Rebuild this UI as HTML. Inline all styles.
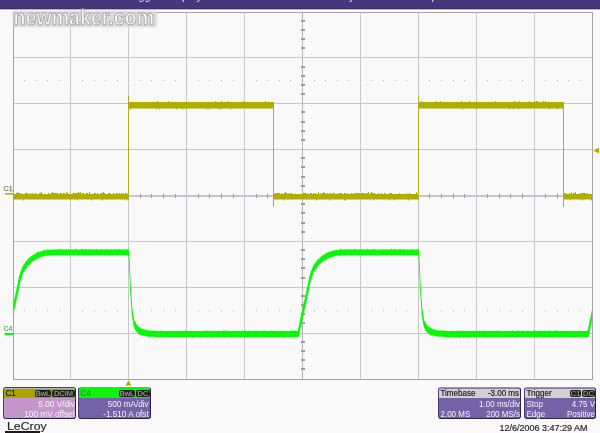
<!DOCTYPE html>
<html><head><meta charset="utf-8"><style>
*{margin:0;padding:0;box-sizing:border-box}
html,body{width:600px;height:433px;overflow:hidden;background:#f9f9f9;font-family:"Liberation Sans",Arial,sans-serif}
#top{position:absolute;left:0;top:0;width:600px;height:9px;background:#45387a;overflow:hidden}
.mn{position:absolute;top:-10.2px;font-size:11px;line-height:12px;color:#e8e4f4;white-space:nowrap}
#sep{position:absolute;left:0;top:8px;width:600px;height:1px;background:#3c2e6c}
#sep2{position:absolute;left:0;top:9px;width:600px;height:1px;background:#b8b8bc}
#sep3{position:absolute;left:0;top:10px;width:600px;height:1px;background:#ffffff}
svg{position:absolute;left:0;top:0}
.wmbg{position:absolute;left:13px;top:11px;width:144px;height:15.5px;background:#d9d9d9;filter:blur(1.2px)}
.wm{position:absolute;left:13.6px;top:5.5px;font-size:19.6px;font-weight:bold;line-height:24px;color:#f8f8f8;white-space:nowrap;
 -webkit-text-stroke:0.8px #a4a4a4;transform:scaleY(1.13);transform-origin:0 19.5px}
.box{position:absolute;top:387px;height:32px;border:1px solid #2c2248;border-left-color:#4c3c78;border-top-color:#a486c6;border-radius:3px;font-size:8px;line-height:9.5px;white-space:nowrap}
.hd{position:absolute;left:0;top:0;right:0;height:10px;border-top:1px solid transparent;border-radius:2px 2px 0 0}
.hd .l{position:absolute;left:1.5px;top:0;color:#141414;-webkit-text-stroke:0.15px #141414;transform:scaleY(1.12);transform-origin:0 7.5px}
.bd{position:absolute;left:0;top:10px;right:0;bottom:0}
.r{position:absolute;right:0px;color:#f4f4f4;transform:scaleY(1.12);transform-origin:0 7.5px}
.lft{position:absolute;left:1.5px;color:#f4f4f4;transform:scaleY(1.12);transform-origin:0 7.5px}
.bdg{position:absolute;top:0.5px;height:7.5px;background:#1c2418;border-radius:2px;color:#b8b8b8;font-size:7.5px;line-height:7.5px;text-align:center}
#logo{position:absolute;left:6.6px;top:420.3px;font-size:10.5px;color:#262626;-webkit-text-stroke:0.15px #262626;transform:scaleX(1.17);transform-origin:0 0}
#logobar{position:absolute;left:5px;top:431px;width:35px;height:2px;background:#1a1a1a}
#date{position:absolute;left:499.5px;top:422.5px;font-size:9px;color:#282828;-webkit-text-stroke:0.2px #282828;white-space:nowrap}
</style></head><body>
<div id="top"><span class="mn" style="left:126px">Trigger</span><span class="mn" style="left:166px">Display</span><span class="mn" style="left:327px">Analysis</span><span class="mn" style="left:415px">Help</span></div><div id="sep"></div><div id="sep2"></div><div id="sep3"></div>
<svg width="600" height="433" viewBox="0 0 600 433">
<rect x="70" y="12" width="1" height="367" fill="#c8c8cc"/>
<rect x="128" y="12" width="1" height="367" fill="#c8c8cc"/>
<rect x="186" y="12" width="1" height="367" fill="#c8c8cc"/>
<rect x="244" y="12" width="1" height="367" fill="#c8c8cc"/>
<rect x="302" y="12" width="1" height="367" fill="#c8c8cc"/>
<rect x="360" y="12" width="1" height="367" fill="#c8c8cc"/>
<rect x="418" y="12" width="1" height="367" fill="#c8c8cc"/>
<rect x="476" y="12" width="1" height="367" fill="#c8c8cc"/>
<rect x="534" y="12" width="1" height="367" fill="#c8c8cc"/>
<rect x="13" y="57" width="579" height="1" fill="#c8c8cc"/>
<rect x="13" y="103" width="579" height="1" fill="#c8c8cc"/>
<rect x="13" y="149" width="579" height="1" fill="#c8c8cc"/>
<rect x="13" y="195" width="579" height="1" fill="#c8c8cc"/>
<rect x="13" y="241" width="579" height="1" fill="#c8c8cc"/>
<rect x="13" y="287" width="579" height="1" fill="#c8c8cc"/>
<rect x="13" y="333" width="579" height="1" fill="#c8c8cc"/>
<rect x="302" y="12" width="1" height="367" fill="#b4b4ba"/>
<rect x="13" y="195" width="579" height="2" fill="#c8c8cc"/>
<path d="M301 20h4v2h-4zM301 29h4v2h-4zM301 38h4v2h-4zM301 47h4v2h-4zM301 66h4v2h-4zM301 75h4v2h-4zM301 84h4v2h-4zM301 93h4v2h-4zM301 111h4v2h-4zM301 121h4v2h-4zM301 130h4v2h-4zM301 139h4v2h-4zM301 157h4v2h-4zM301 166h4v2h-4zM301 176h4v2h-4zM301 185h4v2h-4zM301 203h4v2h-4zM301 212h4v2h-4zM301 222h4v2h-4zM301 231h4v2h-4zM301 249h4v2h-4zM301 258h4v2h-4zM301 267h4v2h-4zM301 277h4v2h-4zM301 295h4v2h-4zM301 304h4v2h-4zM301 313h4v2h-4zM301 322h4v2h-4zM301 341h4v2h-4zM301 350h4v2h-4zM301 359h4v2h-4zM301 368h4v2h-4zM24 194h1v4h-1zM36 194h1v4h-1zM47 194h1v4h-1zM59 194h1v4h-1zM82 194h1v4h-1zM94 194h1v4h-1zM105 194h1v4h-1zM117 194h1v4h-1zM140 194h1v4h-1zM151 194h1v4h-1zM163 194h1v4h-1zM175 194h1v4h-1zM198 194h1v4h-1zM209 194h1v4h-1zM221 194h1v4h-1zM233 194h1v4h-1zM256 194h1v4h-1zM267 194h1v4h-1zM279 194h1v4h-1zM290 194h1v4h-1zM314 194h1v4h-1zM325 194h1v4h-1zM337 194h1v4h-1zM348 194h1v4h-1zM371 194h1v4h-1zM383 194h1v4h-1zM395 194h1v4h-1zM406 194h1v4h-1zM429 194h1v4h-1zM441 194h1v4h-1zM453 194h1v4h-1zM464 194h1v4h-1zM487 194h1v4h-1zM499 194h1v4h-1zM510 194h1v4h-1zM522 194h1v4h-1zM545 194h1v4h-1zM557 194h1v4h-1zM568 194h1v4h-1zM580 194h1v4h-1z" fill="#9c9ca4"/>
<path d="M24 80h1v1h-1zM36 80h1v1h-1zM47 80h1v1h-1zM59 80h1v1h-1zM70 80h1v1h-1zM82 80h1v1h-1zM94 80h1v1h-1zM105 80h1v1h-1zM117 80h1v1h-1zM128 80h1v1h-1zM140 80h1v1h-1zM151 80h1v1h-1zM163 80h1v1h-1zM175 80h1v1h-1zM186 80h1v1h-1zM198 80h1v1h-1zM209 80h1v1h-1zM221 80h1v1h-1zM233 80h1v1h-1zM244 80h1v1h-1zM256 80h1v1h-1zM267 80h1v1h-1zM279 80h1v1h-1zM290 80h1v1h-1zM302 80h1v1h-1zM314 80h1v1h-1zM325 80h1v1h-1zM337 80h1v1h-1zM348 80h1v1h-1zM360 80h1v1h-1zM371 80h1v1h-1zM383 80h1v1h-1zM395 80h1v1h-1zM406 80h1v1h-1zM418 80h1v1h-1zM429 80h1v1h-1zM441 80h1v1h-1zM453 80h1v1h-1zM464 80h1v1h-1zM476 80h1v1h-1zM487 80h1v1h-1zM499 80h1v1h-1zM510 80h1v1h-1zM522 80h1v1h-1zM534 80h1v1h-1zM545 80h1v1h-1zM557 80h1v1h-1zM568 80h1v1h-1zM580 80h1v1h-1zM24 310h1v1h-1zM36 310h1v1h-1zM47 310h1v1h-1zM59 310h1v1h-1zM70 310h1v1h-1zM82 310h1v1h-1zM94 310h1v1h-1zM105 310h1v1h-1zM117 310h1v1h-1zM128 310h1v1h-1zM140 310h1v1h-1zM151 310h1v1h-1zM163 310h1v1h-1zM175 310h1v1h-1zM186 310h1v1h-1zM198 310h1v1h-1zM209 310h1v1h-1zM221 310h1v1h-1zM233 310h1v1h-1zM244 310h1v1h-1zM256 310h1v1h-1zM267 310h1v1h-1zM279 310h1v1h-1zM290 310h1v1h-1zM302 310h1v1h-1zM314 310h1v1h-1zM325 310h1v1h-1zM337 310h1v1h-1zM348 310h1v1h-1zM360 310h1v1h-1zM371 310h1v1h-1zM383 310h1v1h-1zM395 310h1v1h-1zM406 310h1v1h-1zM418 310h1v1h-1zM429 310h1v1h-1zM441 310h1v1h-1zM453 310h1v1h-1zM464 310h1v1h-1zM476 310h1v1h-1zM487 310h1v1h-1zM499 310h1v1h-1zM510 310h1v1h-1zM522 310h1v1h-1zM534 310h1v1h-1zM545 310h1v1h-1zM557 310h1v1h-1zM568 310h1v1h-1zM580 310h1v1h-1z" fill="#b0b0b4"/>
<rect x="13.5" y="12.5" width="579" height="367" fill="none" stroke="#a4a4a8" stroke-width="1"/>
<path d="M13 193 14 193 14 194 15 194 15 194 16 194 16 193 17 193 17 192 18 192 18 193 19 193 19 193 20 193 20 193 21 193 21 194 22 194 22 194 23 194 23 194 24 194 24 194 25 194 25 193 26 193 26 193 27 193 27 193 28 193 28 194 29 194 29 194 30 194 30 193 31 193 31 194 32 194 32 193 33 193 33 194 34 194 34 194 35 194 35 193 36 193 36 194 37 194 37 194 38 194 38 194 39 194 39 193 40 193 40 193 41 193 41 192 42 192 42 194 43 194 43 194 44 194 44 194 45 194 45 194 46 194 46 194 47 194 47 194 48 194 48 193 49 193 49 194 50 194 50 194 51 194 51 193 52 193 52 192 53 192 53 193 54 193 54 193 55 193 55 193 56 193 56 193 57 193 57 193 58 193 58 194 59 194 59 194 60 194 60 193 61 193 61 193 62 193 62 194 63 194 63 193 64 193 64 193 65 193 65 194 66 194 66 192 67 192 67 193 68 193 68 194 69 194 69 194 70 194 70 194 71 194 71 194 72 194 72 194 73 194 73 193 74 193 74 193 75 193 75 193 76 193 76 193 77 193 77 193 78 193 78 192 79 192 79 193 80 193 80 192 81 192 81 194 82 194 82 193 83 193 83 193 84 193 84 194 85 194 85 194 86 194 86 193 87 193 87 193 88 193 88 194 89 194 89 192 90 192 90 194 91 194 91 194 92 194 92 194 93 194 93 194 94 194 94 193 95 193 95 193 96 193 96 194 97 194 97 193 98 193 98 194 99 194 99 194 100 194 100 194 101 194 101 193 102 193 102 193 103 193 103 192 104 192 104 193 105 193 105 194 106 194 106 194 107 194 107 194 108 194 108 193 109 193 109 193 110 193 110 194 111 194 111 194 112 194 112 194 113 194 113 193 114 193 114 194 115 194 115 194 116 194 116 193 117 193 117 193 118 193 118 194 119 194 119 193 120 193 120 194 121 194 121 193 122 193 122 194 123 194 123 193 124 193 124 194 125 194 125 193 126 193 126 193 127 193 127 194 128 194 128 194 129 194 L129 199.6 128 199.6 128 199.6 127 199.6 127 200.6 126 200.6 126 199.6 125 199.6 125 199.6 124 199.6 124 199.6 123 199.6 123 199.6 122 199.6 122 199.6 121 199.6 121 199.6 120 199.6 120 199.6 119 199.6 119 199.6 118 199.6 118 199.6 117 199.6 117 199.6 116 199.6 116 199.6 115 199.6 115 199.6 114 199.6 114 199.6 113 199.6 113 199.6 112 199.6 112 199.6 111 199.6 111 199.6 110 199.6 110 199.6 109 199.6 109 199.6 108 199.6 108 199.6 107 199.6 107 199.6 106 199.6 106 199.6 105 199.6 105 199.6 104 199.6 104 199.6 103 199.6 103 200.6 102 200.6 102 199.6 101 199.6 101 199.6 100 199.6 100 199.6 99 199.6 99 199.6 98 199.6 98 199.6 97 199.6 97 199.6 96 199.6 96 199.6 95 199.6 95 199.6 94 199.6 94 199.6 93 199.6 93 199.6 92 199.6 92 200.6 91 200.6 91 199.6 90 199.6 90 199.6 89 199.6 89 199.6 88 199.6 88 199.6 87 199.6 87 199.6 86 199.6 86 199.6 85 199.6 85 199.6 84 199.6 84 199.6 83 199.6 83 199.6 82 199.6 82 199.6 81 199.6 81 199.6 80 199.6 80 199.6 79 199.6 79 199.6 78 199.6 78 200.6 77 200.6 77 199.6 76 199.6 76 199.6 75 199.6 75 199.6 74 199.6 74 199.6 73 199.6 73 199.6 72 199.6 72 199.6 71 199.6 71 200.6 70 200.6 70 199.6 69 199.6 69 199.6 68 199.6 68 199.6 67 199.6 67 199.6 66 199.6 66 199.6 65 199.6 65 199.6 64 199.6 64 199.6 63 199.6 63 199.6 62 199.6 62 199.6 61 199.6 61 199.6 60 199.6 60 199.6 59 199.6 59 199.6 58 199.6 58 199.6 57 199.6 57 199.6 56 199.6 56 199.6 55 199.6 55 199.6 54 199.6 54 199.6 53 199.6 53 199.6 52 199.6 52 199.6 51 199.6 51 199.6 50 199.6 50 199.6 49 199.6 49 199.6 48 199.6 48 199.6 47 199.6 47 199.6 46 199.6 46 199.6 45 199.6 45 199.6 44 199.6 44 199.6 43 199.6 43 199.6 42 199.6 42 199.6 41 199.6 41 199.6 40 199.6 40 199.6 39 199.6 39 199.6 38 199.6 38 199.6 37 199.6 37 199.6 36 199.6 36 199.6 35 199.6 35 199.6 34 199.6 34 199.6 33 199.6 33 199.6 32 199.6 32 199.6 31 199.6 31 199.6 30 199.6 30 199.6 29 199.6 29 199.6 28 199.6 28 199.6 27 199.6 27 199.6 26 199.6 26 199.6 25 199.6 25 199.6 24 199.6 24 200.6 23 200.6 23 199.6 22 199.6 22 199.6 21 199.6 21 199.6 20 199.6 20 199.6 19 199.6 19 199.6 18 199.6 18 199.6 17 199.6 17 199.6 16 199.6 16 199.6 15 199.6 15 199.6 14 199.6 14 199.6 13 199.6Z M273 193 274 193 274 194 275 194 275 193 276 193 276 193 277 193 277 193 278 193 278 193 279 193 279 193 280 193 280 194 281 194 281 193 282 193 282 194 283 194 283 194 284 194 284 193 285 193 285 192 286 192 286 193 287 193 287 194 288 194 288 193 289 193 289 194 290 194 290 193 291 193 291 193 292 193 292 194 293 194 293 194 294 194 294 194 295 194 295 194 296 194 296 194 297 194 297 194 298 194 298 194 299 194 299 194 300 194 300 194 301 194 301 194 302 194 302 194 303 194 303 193 304 193 304 193 305 193 305 193 306 193 306 194 307 194 307 193 308 193 308 194 309 194 309 194 310 194 310 193 311 193 311 193 312 193 312 194 313 194 313 193 314 193 314 194 315 194 315 193 316 193 316 194 317 194 317 194 318 194 318 192 319 192 319 194 320 194 320 193 321 193 321 194 322 194 322 193 323 193 323 192 324 192 324 193 325 193 325 193 326 193 326 194 327 194 327 193 328 193 328 194 329 194 329 193 330 193 330 194 331 194 331 193 332 193 332 194 333 194 333 193 334 193 334 193 335 193 335 194 336 194 336 194 337 194 337 193 338 193 338 194 339 194 339 193 340 193 340 193 341 193 341 193 342 193 342 194 343 194 343 194 344 194 344 193 345 193 345 193 346 193 346 194 347 194 347 193 348 193 348 194 349 194 349 194 350 194 350 194 351 194 351 193 352 193 352 194 353 194 353 193 354 193 354 194 355 194 355 193 356 193 356 193 357 193 357 193 358 193 358 193 359 193 359 193 360 193 360 194 361 194 361 193 362 193 362 193 363 193 363 193 364 193 364 193 365 193 365 194 366 194 366 193 367 193 367 193 368 193 368 192 369 192 369 194 370 194 370 193 371 193 371 192 372 192 372 193 373 193 373 193 374 193 374 193 375 193 375 194 376 194 376 194 377 194 377 194 378 194 378 193 379 193 379 194 380 194 380 194 381 194 381 193 382 193 382 194 383 194 383 194 384 194 384 193 385 193 385 194 386 194 386 194 387 194 387 194 388 194 388 194 389 194 389 193 390 193 390 193 391 193 391 193 392 193 392 194 393 194 393 194 394 194 394 194 395 194 395 194 396 194 396 194 397 194 397 194 398 194 398 194 399 194 399 193 400 193 400 194 401 194 401 194 402 194 402 194 403 194 403 194 404 194 404 194 405 194 405 194 406 194 406 193 407 193 407 194 408 194 408 194 409 194 409 193 410 193 410 194 411 194 411 194 412 194 412 194 413 194 413 194 414 194 414 194 415 194 415 194 416 194 416 192 417 192 417 194 418 194 418 193 419 193 L419 199.6 418 199.6 418 199.6 417 199.6 417 199.6 416 199.6 416 199.6 415 199.6 415 199.6 414 199.6 414 199.6 413 199.6 413 199.6 412 199.6 412 199.6 411 199.6 411 199.6 410 199.6 410 199.6 409 199.6 409 200.6 408 200.6 408 199.6 407 199.6 407 199.6 406 199.6 406 199.6 405 199.6 405 199.6 404 199.6 404 199.6 403 199.6 403 199.6 402 199.6 402 199.6 401 199.6 401 199.6 400 199.6 400 199.6 399 199.6 399 199.6 398 199.6 398 199.6 397 199.6 397 199.6 396 199.6 396 199.6 395 199.6 395 200.6 394 200.6 394 199.6 393 199.6 393 199.6 392 199.6 392 199.6 391 199.6 391 199.6 390 199.6 390 200.6 389 200.6 389 199.6 388 199.6 388 199.6 387 199.6 387 199.6 386 199.6 386 199.6 385 199.6 385 199.6 384 199.6 384 199.6 383 199.6 383 199.6 382 199.6 382 199.6 381 199.6 381 199.6 380 199.6 380 199.6 379 199.6 379 199.6 378 199.6 378 199.6 377 199.6 377 199.6 376 199.6 376 199.6 375 199.6 375 199.6 374 199.6 374 200.6 373 200.6 373 199.6 372 199.6 372 199.6 371 199.6 371 199.6 370 199.6 370 199.6 369 199.6 369 199.6 368 199.6 368 199.6 367 199.6 367 199.6 366 199.6 366 199.6 365 199.6 365 199.6 364 199.6 364 199.6 363 199.6 363 199.6 362 199.6 362 199.6 361 199.6 361 199.6 360 199.6 360 199.6 359 199.6 359 199.6 358 199.6 358 199.6 357 199.6 357 199.6 356 199.6 356 199.6 355 199.6 355 199.6 354 199.6 354 199.6 353 199.6 353 199.6 352 199.6 352 199.6 351 199.6 351 199.6 350 199.6 350 199.6 349 199.6 349 199.6 348 199.6 348 199.6 347 199.6 347 199.6 346 199.6 346 200.6 345 200.6 345 200.6 344 200.6 344 199.6 343 199.6 343 199.6 342 199.6 342 199.6 341 199.6 341 199.6 340 199.6 340 199.6 339 199.6 339 199.6 338 199.6 338 199.6 337 199.6 337 199.6 336 199.6 336 199.6 335 199.6 335 199.6 334 199.6 334 199.6 333 199.6 333 199.6 332 199.6 332 199.6 331 199.6 331 199.6 330 199.6 330 200.6 329 200.6 329 199.6 328 199.6 328 199.6 327 199.6 327 199.6 326 199.6 326 199.6 325 199.6 325 199.6 324 199.6 324 199.6 323 199.6 323 199.6 322 199.6 322 199.6 321 199.6 321 199.6 320 199.6 320 199.6 319 199.6 319 199.6 318 199.6 318 199.6 317 199.6 317 200.6 316 200.6 316 199.6 315 199.6 315 199.6 314 199.6 314 199.6 313 199.6 313 199.6 312 199.6 312 199.6 311 199.6 311 199.6 310 199.6 310 199.6 309 199.6 309 199.6 308 199.6 308 199.6 307 199.6 307 199.6 306 199.6 306 199.6 305 199.6 305 199.6 304 199.6 304 199.6 303 199.6 303 199.6 302 199.6 302 199.6 301 199.6 301 199.6 300 199.6 300 199.6 299 199.6 299 199.6 298 199.6 298 199.6 297 199.6 297 199.6 296 199.6 296 199.6 295 199.6 295 199.6 294 199.6 294 199.6 293 199.6 293 199.6 292 199.6 292 199.6 291 199.6 291 199.6 290 199.6 290 199.6 289 199.6 289 199.6 288 199.6 288 199.6 287 199.6 287 199.6 286 199.6 286 199.6 285 199.6 285 199.6 284 199.6 284 200.6 283 200.6 283 199.6 282 199.6 282 199.6 281 199.6 281 199.6 280 199.6 280 199.6 279 199.6 279 199.6 278 199.6 278 199.6 277 199.6 277 199.6 276 199.6 276 199.6 275 199.6 275 199.6 274 199.6 274 199.6 273 199.6Z M563 193 564 193 564 193 565 193 565 193 566 193 566 194 567 194 567 194 568 194 568 194 569 194 569 193 570 193 570 194 571 194 571 192 572 192 572 194 573 194 573 193 574 193 574 193 575 193 575 192 576 192 576 194 577 194 577 194 578 194 578 194 579 194 579 193 580 193 580 194 581 194 581 193 582 193 582 193 583 193 583 193 584 193 584 193 585 193 585 193 586 193 586 194 587 194 587 193 588 193 588 194 589 194 589 194 590 194 590 194 591 194 591 194 592 194 L592 200.6 591 200.6 591 199.6 590 199.6 590 199.6 589 199.6 589 199.6 588 199.6 588 199.6 587 199.6 587 199.6 586 199.6 586 199.6 585 199.6 585 199.6 584 199.6 584 199.6 583 199.6 583 200.6 582 200.6 582 199.6 581 199.6 581 199.6 580 199.6 580 199.6 579 199.6 579 199.6 578 199.6 578 199.6 577 199.6 577 199.6 576 199.6 576 199.6 575 199.6 575 199.6 574 199.6 574 199.6 573 199.6 573 199.6 572 199.6 572 199.6 571 199.6 571 200.6 570 200.6 570 199.6 569 199.6 569 199.6 568 199.6 568 199.6 567 199.6 567 199.6 566 199.6 566 199.6 565 199.6 565 199.6 564 199.6 564 199.6 563 199.6Z M128 102 129 102 129 102 130 102 130 102 131 102 131 102 132 102 132 102 133 102 133 102 134 102 134 102 135 102 135 102 136 102 136 102 137 102 137 102 138 102 138 102 139 102 139 102 140 102 140 102 141 102 141 102 142 102 142 102 143 102 143 102 144 102 144 102 145 102 145 102 146 102 146 102 147 102 147 102 148 102 148 102 149 102 149 102 150 102 150 102 151 102 151 102 152 102 152 102 153 102 153 102 154 102 154 102 155 102 155 102 156 102 156 102 157 102 157 101 158 101 158 102 159 102 159 102 160 102 160 102 161 102 161 102 162 102 162 102 163 102 163 102 164 102 164 102 165 102 165 102 166 102 166 102 167 102 167 102 168 102 168 101 169 101 169 102 170 102 170 102 171 102 171 102 172 102 172 102 173 102 173 102 174 102 174 102 175 102 175 102 176 102 176 102 177 102 177 102 178 102 178 102 179 102 179 102 180 102 180 102 181 102 181 102 182 102 182 102 183 102 183 102 184 102 184 102 185 102 185 102 186 102 186 102 187 102 187 102 188 102 188 102 189 102 189 102 190 102 190 102 191 102 191 102 192 102 192 102 193 102 193 102 194 102 194 102 195 102 195 102 196 102 196 102 197 102 197 102 198 102 198 102 199 102 199 102 200 102 200 102 201 102 201 102 202 102 202 102 203 102 203 102 204 102 204 102 205 102 205 102 206 102 206 102 207 102 207 102 208 102 208 102 209 102 209 102 210 102 210 102 211 102 211 102 212 102 212 102 213 102 213 102 214 102 214 102 215 102 215 101 216 101 216 102 217 102 217 102 218 102 218 102 219 102 219 102 220 102 220 102 221 102 221 101 222 101 222 102 223 102 223 102 224 102 224 102 225 102 225 102 226 102 226 102 227 102 227 102 228 102 228 101 229 101 229 102 230 102 230 102 231 102 231 102 232 102 232 102 233 102 233 102 234 102 234 102 235 102 235 102 236 102 236 102 237 102 237 102 238 102 238 102 239 102 239 102 240 102 240 102 241 102 241 102 242 102 242 102 243 102 243 101 244 101 244 102 245 102 245 102 246 102 246 102 247 102 247 102 248 102 248 102 249 102 249 102 250 102 250 102 251 102 251 102 252 102 252 102 253 102 253 102 254 102 254 102 255 102 255 102 256 102 256 102 257 102 257 102 258 102 258 102 259 102 259 102 260 102 260 102 261 102 261 102 262 102 262 102 263 102 263 102 264 102 264 102 265 102 265 101 266 101 266 102 267 102 267 102 268 102 268 102 269 102 269 102 270 102 270 102 271 102 271 102 272 102 272 102 273 102 273 102 274 102 L274 108.5 273 108.5 273 108.5 272 108.5 272 108.5 271 108.5 271 108.5 270 108.5 270 108.5 269 108.5 269 108.5 268 108.5 268 108.5 267 108.5 267 108.5 266 108.5 266 108.5 265 108.5 265 108.5 264 108.5 264 108.5 263 108.5 263 108.5 262 108.5 262 108.5 261 108.5 261 108.5 260 108.5 260 108.5 259 108.5 259 108.5 258 108.5 258 108.5 257 108.5 257 108.5 256 108.5 256 108.5 255 108.5 255 108.5 254 108.5 254 108.5 253 108.5 253 108.5 252 108.5 252 108.5 251 108.5 251 108.5 250 108.5 250 108.5 249 108.5 249 108.5 248 108.5 248 108.5 247 108.5 247 108.5 246 108.5 246 108.5 245 108.5 245 108.5 244 108.5 244 108.5 243 108.5 243 108.5 242 108.5 242 108.5 241 108.5 241 108.5 240 108.5 240 108.5 239 108.5 239 108.5 238 108.5 238 108.5 237 108.5 237 108.5 236 108.5 236 108.5 235 108.5 235 108.5 234 108.5 234 108.5 233 108.5 233 108.5 232 108.5 232 108.5 231 108.5 231 109.5 230 109.5 230 108.5 229 108.5 229 108.5 228 108.5 228 108.5 227 108.5 227 108.5 226 108.5 226 108.5 225 108.5 225 108.5 224 108.5 224 108.5 223 108.5 223 108.5 222 108.5 222 108.5 221 108.5 221 109.5 220 109.5 220 108.5 219 108.5 219 109.5 218 109.5 218 108.5 217 108.5 217 108.5 216 108.5 216 108.5 215 108.5 215 108.5 214 108.5 214 108.5 213 108.5 213 108.5 212 108.5 212 108.5 211 108.5 211 108.5 210 108.5 210 109.5 209 109.5 209 108.5 208 108.5 208 108.5 207 108.5 207 109.5 206 109.5 206 108.5 205 108.5 205 108.5 204 108.5 204 108.5 203 108.5 203 108.5 202 108.5 202 108.5 201 108.5 201 108.5 200 108.5 200 108.5 199 108.5 199 108.5 198 108.5 198 108.5 197 108.5 197 108.5 196 108.5 196 108.5 195 108.5 195 108.5 194 108.5 194 108.5 193 108.5 193 108.5 192 108.5 192 108.5 191 108.5 191 108.5 190 108.5 190 108.5 189 108.5 189 108.5 188 108.5 188 108.5 187 108.5 187 109.5 186 109.5 186 108.5 185 108.5 185 108.5 184 108.5 184 108.5 183 108.5 183 109.5 182 109.5 182 108.5 181 108.5 181 108.5 180 108.5 180 108.5 179 108.5 179 108.5 178 108.5 178 108.5 177 108.5 177 109.5 176 109.5 176 108.5 175 108.5 175 108.5 174 108.5 174 108.5 173 108.5 173 108.5 172 108.5 172 108.5 171 108.5 171 108.5 170 108.5 170 108.5 169 108.5 169 108.5 168 108.5 168 108.5 167 108.5 167 108.5 166 108.5 166 108.5 165 108.5 165 108.5 164 108.5 164 108.5 163 108.5 163 108.5 162 108.5 162 108.5 161 108.5 161 108.5 160 108.5 160 109.5 159 109.5 159 108.5 158 108.5 158 108.5 157 108.5 157 109.5 156 109.5 156 108.5 155 108.5 155 108.5 154 108.5 154 108.5 153 108.5 153 108.5 152 108.5 152 108.5 151 108.5 151 108.5 150 108.5 150 108.5 149 108.5 149 108.5 148 108.5 148 108.5 147 108.5 147 108.5 146 108.5 146 108.5 145 108.5 145 108.5 144 108.5 144 108.5 143 108.5 143 108.5 142 108.5 142 108.5 141 108.5 141 108.5 140 108.5 140 108.5 139 108.5 139 108.5 138 108.5 138 108.5 137 108.5 137 108.5 136 108.5 136 108.5 135 108.5 135 108.5 134 108.5 134 108.5 133 108.5 133 108.5 132 108.5 132 108.5 131 108.5 131 109.5 130 109.5 130 108.5 129 108.5 129 108.5 128 108.5Z M418 102 419 102 419 102 420 102 420 102 421 102 421 101 422 101 422 102 423 102 423 102 424 102 424 102 425 102 425 102 426 102 426 102 427 102 427 102 428 102 428 102 429 102 429 102 430 102 430 102 431 102 431 102 432 102 432 102 433 102 433 102 434 102 434 102 435 102 435 102 436 102 436 101 437 101 437 102 438 102 438 102 439 102 439 102 440 102 440 101 441 101 441 102 442 102 442 102 443 102 443 102 444 102 444 102 445 102 445 102 446 102 446 102 447 102 447 102 448 102 448 102 449 102 449 102 450 102 450 102 451 102 451 102 452 102 452 102 453 102 453 102 454 102 454 102 455 102 455 102 456 102 456 102 457 102 457 102 458 102 458 102 459 102 459 102 460 102 460 102 461 102 461 101 462 101 462 102 463 102 463 102 464 102 464 102 465 102 465 102 466 102 466 102 467 102 467 102 468 102 468 102 469 102 469 101 470 101 470 102 471 102 471 102 472 102 472 102 473 102 473 102 474 102 474 102 475 102 475 102 476 102 476 102 477 102 477 102 478 102 478 102 479 102 479 102 480 102 480 102 481 102 481 102 482 102 482 102 483 102 483 102 484 102 484 102 485 102 485 102 486 102 486 102 487 102 487 102 488 102 488 102 489 102 489 102 490 102 490 102 491 102 491 102 492 102 492 102 493 102 493 102 494 102 494 102 495 102 495 101 496 101 496 102 497 102 497 102 498 102 498 102 499 102 499 102 500 102 500 102 501 102 501 102 502 102 502 102 503 102 503 102 504 102 504 102 505 102 505 102 506 102 506 102 507 102 507 102 508 102 508 102 509 102 509 102 510 102 510 102 511 102 511 102 512 102 512 102 513 102 513 102 514 102 514 101 515 101 515 102 516 102 516 102 517 102 517 102 518 102 518 102 519 102 519 101 520 101 520 102 521 102 521 102 522 102 522 102 523 102 523 102 524 102 524 102 525 102 525 102 526 102 526 102 527 102 527 102 528 102 528 102 529 102 529 101 530 101 530 102 531 102 531 102 532 102 532 102 533 102 533 102 534 102 534 101 535 101 535 102 536 102 536 101 537 101 537 101 538 101 538 102 539 102 539 102 540 102 540 102 541 102 541 102 542 102 542 102 543 102 543 101 544 101 544 102 545 102 545 101 546 101 546 102 547 102 547 102 548 102 548 102 549 102 549 102 550 102 550 102 551 102 551 102 552 102 552 102 553 102 553 102 554 102 554 102 555 102 555 102 556 102 556 102 557 102 557 102 558 102 558 102 559 102 559 102 560 102 560 102 561 102 561 102 562 102 562 102 563 102 563 102 564 102 L564 108.5 563 108.5 563 108.5 562 108.5 562 108.5 561 108.5 561 108.5 560 108.5 560 108.5 559 108.5 559 108.5 558 108.5 558 109.5 557 109.5 557 108.5 556 108.5 556 108.5 555 108.5 555 108.5 554 108.5 554 108.5 553 108.5 553 108.5 552 108.5 552 108.5 551 108.5 551 108.5 550 108.5 550 109.5 549 109.5 549 108.5 548 108.5 548 108.5 547 108.5 547 108.5 546 108.5 546 108.5 545 108.5 545 108.5 544 108.5 544 108.5 543 108.5 543 108.5 542 108.5 542 108.5 541 108.5 541 108.5 540 108.5 540 108.5 539 108.5 539 108.5 538 108.5 538 108.5 537 108.5 537 108.5 536 108.5 536 108.5 535 108.5 535 108.5 534 108.5 534 108.5 533 108.5 533 108.5 532 108.5 532 108.5 531 108.5 531 108.5 530 108.5 530 108.5 529 108.5 529 108.5 528 108.5 528 108.5 527 108.5 527 108.5 526 108.5 526 108.5 525 108.5 525 108.5 524 108.5 524 108.5 523 108.5 523 108.5 522 108.5 522 108.5 521 108.5 521 108.5 520 108.5 520 108.5 519 108.5 519 109.5 518 109.5 518 108.5 517 108.5 517 108.5 516 108.5 516 108.5 515 108.5 515 108.5 514 108.5 514 109.5 513 109.5 513 108.5 512 108.5 512 108.5 511 108.5 511 108.5 510 108.5 510 109.5 509 109.5 509 108.5 508 108.5 508 108.5 507 108.5 507 108.5 506 108.5 506 108.5 505 108.5 505 108.5 504 108.5 504 108.5 503 108.5 503 108.5 502 108.5 502 108.5 501 108.5 501 108.5 500 108.5 500 108.5 499 108.5 499 108.5 498 108.5 498 108.5 497 108.5 497 108.5 496 108.5 496 108.5 495 108.5 495 108.5 494 108.5 494 108.5 493 108.5 493 108.5 492 108.5 492 108.5 491 108.5 491 108.5 490 108.5 490 108.5 489 108.5 489 108.5 488 108.5 488 108.5 487 108.5 487 108.5 486 108.5 486 108.5 485 108.5 485 108.5 484 108.5 484 108.5 483 108.5 483 108.5 482 108.5 482 108.5 481 108.5 481 108.5 480 108.5 480 108.5 479 108.5 479 108.5 478 108.5 478 108.5 477 108.5 477 109.5 476 109.5 476 108.5 475 108.5 475 108.5 474 108.5 474 108.5 473 108.5 473 108.5 472 108.5 472 108.5 471 108.5 471 108.5 470 108.5 470 108.5 469 108.5 469 108.5 468 108.5 468 108.5 467 108.5 467 108.5 466 108.5 466 108.5 465 108.5 465 108.5 464 108.5 464 108.5 463 108.5 463 109.5 462 109.5 462 108.5 461 108.5 461 108.5 460 108.5 460 108.5 459 108.5 459 108.5 458 108.5 458 108.5 457 108.5 457 108.5 456 108.5 456 108.5 455 108.5 455 108.5 454 108.5 454 108.5 453 108.5 453 108.5 452 108.5 452 108.5 451 108.5 451 108.5 450 108.5 450 108.5 449 108.5 449 108.5 448 108.5 448 108.5 447 108.5 447 108.5 446 108.5 446 108.5 445 108.5 445 108.5 444 108.5 444 108.5 443 108.5 443 108.5 442 108.5 442 108.5 441 108.5 441 108.5 440 108.5 440 108.5 439 108.5 439 108.5 438 108.5 438 108.5 437 108.5 437 108.5 436 108.5 436 108.5 435 108.5 435 108.5 434 108.5 434 108.5 433 108.5 433 108.5 432 108.5 432 108.5 431 108.5 431 108.5 430 108.5 430 108.5 429 108.5 429 108.5 428 108.5 428 108.5 427 108.5 427 108.5 426 108.5 426 108.5 425 108.5 425 108.5 424 108.5 424 108.5 423 108.5 423 108.5 422 108.5 422 108.5 421 108.5 421 108.5 420 108.5 420 108.5 419 108.5 419 108.5 418 108.5Z" fill="#b0ac00"/>
<path d="M128.5 96V200M273.5 102V206.5M418.5 96V200M563.5 102V207" stroke="#b4ae20" stroke-width="1"/>
<path d="M13 305.27 13.33 303.79 13.66 302.32 13.99 300.84 14.32 299.37 14.65 297.89 14.98 295.38 15.31 294.87 15.64 292.35 15.97 291.84 16.3 289.33 16.63 288.81 16.96 287.3 17.29 284.79 17.62 284.27 17.95 282.64 18.28 279.99 18.61 279.35 18.94 276.7 19.27 275.06 19.6 274.95 19.93 274 20.26 273.06 20.59 271.11 20.92 271.16 21.25 270.22 21.58 268.27 21.91 268.33 22.24 267.38 22.57 266.46 22.9 265.99 23.23 264.51 23.56 265.04 23.89 264.56 24.22 264.08 24.55 263.6 24.88 263.13 25.21 261.65 25.54 262.17 25.87 260.7 26.2 261.22 26.53 260.74 26.86 260.41 27.19 260.09 27.52 259.77 27.85 259.45 28.18 258.12 28.51 257.8 28.84 258.48 29.17 258.16 29.5 257.84 29.83 257.51 30.16 257.19 30.49 256.87 30.82 256.55 31.15 256.23 31.48 255.99 31.81 255.79 32.14 255.58 32.47 255.38 32.8 255.18 33.13 254.98 33.46 254.78 33.79 254.57 34.12 254.37 34.45 254.17 34.78 253.97 35.11 253.77 35.44 253.56 35.77 253.36 36.1 253.16 36.43 252.96 36.76 252.76 37.09 251.59 37.42 251.49 37.75 252.38 38.08 252.27 38.41 252.16 38.74 251.05 39.07 251.95 39.4 251.84 39.73 251.73 40.06 251.62 40.39 251.51 40.72 251.4 41.05 251.3 41.38 251.19 41.71 251.08 42.04 250.97 42.37 250.86 42.7 250.76 43.03 250.65 43.36 250.54 43.69 249.43 44.02 250.34 44.35 250.31 44.68 250.29 45.01 250.26 45.34 250.23 45.67 250.2 46 250.17 46.33 250.15 46.66 249.12 46.99 250.09 47.32 250.06 47.65 249.04 47.98 250.01 48.31 249.98 48.64 249.95 48.97 249.93 49.3 249.9 49.63 249.87 49.96 249.84 50.29 249.81 50.62 249.79 50.95 248.76 51.28 249.73 51.61 249.7 51.94 249.68 52.27 249.65 52.6 249.64 52.93 249.64 53.26 249.63 53.59 249.62 53.92 249.62 54.25 249.61 54.58 249.6 54.91 249.6 55.24 249.59 55.57 249.58 55.9 249.58 56.23 249.57 56.56 249.56 56.89 249.56 57.22 248.55 57.55 249.54 57.88 249.54 58.21 249.53 58.54 249.52 58.87 249.52 59.2 248.51 59.53 249.5 59.86 249.5 60.19 249.49 60.52 248.48 60.85 249.48 61.18 248.47 61.51 249.46 61.84 249.46 62.17 249.45 62.5 249.45 62.83 249.45 63.16 249.45 63.49 249.45 63.82 249.45 64.15 249.45 64.48 249.45 64.81 249.45 65.14 249.45 65.47 249.45 65.8 249.45 66.13 249.45 66.46 249.45 66.79 248.45 67.12 249.45 67.45 249.45 67.78 249.45 68.11 249.45 68.44 249.45 68.77 248.45 69.1 249.45 69.43 249.45 69.76 249.45 70.09 249.45 70.42 249.45 70.75 249.45 71.08 249.45 71.41 249.45 71.74 249.45 72.07 249.45 72.4 249.45 72.73 249.45 73.06 249.45 73.39 249.45 73.72 249.45 74.05 249.45 74.38 249.45 74.71 249.45 75.04 248.45 75.37 249.45 75.7 248.45 76.03 248.45 76.36 249.45 76.69 249.45 77.02 249.45 77.35 249.45 77.68 249.45 78.01 249.45 78.34 249.45 78.67 249.45 79 249.45 79.33 249.45 79.66 249.45 79.99 249.45 80.32 249.45 80.65 249.45 80.98 249.45 81.31 249.45 81.64 248.45 81.97 248.45 82.3 249.45 82.63 249.45 82.96 248.45 83.29 249.45 83.62 249.45 83.95 249.45 84.28 249.45 84.61 249.45 84.94 248.45 85.27 249.45 85.6 248.45 85.93 249.45 86.26 249.45 86.59 249.45 86.92 248.45 87.25 249.45 87.58 249.45 87.91 249.45 88.24 249.45 88.57 249.45 88.9 249.45 89.23 248.45 89.56 249.45 89.89 249.45 90.22 249.45 90.55 249.45 90.88 249.45 91.21 249.45 91.54 249.45 91.87 249.45 92.2 249.45 92.53 249.45 92.86 249.45 93.19 249.45 93.52 248.45 93.85 249.45 94.18 249.45 94.51 249.45 94.84 249.45 95.17 249.45 95.5 249.45 95.83 249.45 96.16 249.45 96.49 248.45 96.82 249.45 97.15 249.45 97.48 248.45 97.81 249.45 98.14 249.45 98.47 249.45 98.8 249.45 99.13 249.45 99.46 249.45 99.79 249.45 100.12 249.45 100.45 249.45 100.78 249.45 101.11 249.45 101.44 249.45 101.77 248.45 102.1 249.45 102.43 249.45 102.76 249.45 103.09 249.45 103.42 249.45 103.75 249.45 104.08 249.45 104.41 249.45 104.74 249.45 105.07 249.45 105.4 248.45 105.73 249.45 106.06 249.45 106.39 249.45 106.72 248.45 107.05 249.45 107.38 249.45 107.71 249.45 108.04 249.45 108.37 249.45 108.7 249.45 109.03 249.45 109.36 248.45 109.69 249.45 110.02 249.45 110.35 249.45 110.68 249.45 111.01 248.45 111.34 249.45 111.67 249.45 112 249.45 112.33 249.45 112.66 249.45 112.99 249.45 113.32 249.45 113.65 249.45 113.98 249.45 114.31 249.45 114.64 249.45 114.97 248.45 115.3 249.45 115.63 249.45 115.96 249.45 116.29 248.45 116.62 249.45 116.95 249.45 117.28 249.45 117.61 249.45 117.94 249.45 118.27 248.45 118.6 249.45 118.93 249.45 119.26 249.45 119.59 248.45 119.92 249.45 120.25 249.45 120.58 249.45 120.91 249.45 121.24 249.45 121.57 249.45 121.9 249.45 122.23 249.45 122.56 249.45 122.89 249.45 123.22 249.45 123.55 249.45 123.88 248.45 124.21 248.45 124.54 249.45 124.87 249.45 125.2 249.45 125.53 249.45 125.86 249.45 126.19 248.45 126.52 249.45 126.85 249.45 127.18 249.45 127.51 249.45 127.84 249.45 128.17 249.45 128.5 249.45 128.83 249.44 129.16 251.45 129.49 257.41 129.82 264.7 130.15 270.98 130.48 279.27 130.81 285.75 131.14 290.63 131.47 295.5 131.8 300.37 132.13 305.25 132.46 308.76 132.79 310.81 133.12 312.87 133.45 314.92 133.78 316.97 134.11 319.02 134.44 320.9 134.77 321.04 135.1 321.64 135.43 321.23 135.76 322.83 136.09 323.42 136.42 324.02 136.75 324.61 137.08 325.21 137.41 324.65 137.74 325.92 138.07 326.19 138.4 326.46 138.73 326.73 139.06 327 139.39 327.28 139.72 326.55 140.05 327.82 140.38 327.09 140.71 328.36 141.04 328.63 141.37 328.83 141.7 327.91 142.03 328.98 142.36 329.06 142.69 329.13 143.02 329.2 143.35 329.28 143.68 329.35 144.01 329.43 144.34 329.5 144.67 329.57 145 329.65 145.33 329.72 145.66 329.8 145.99 329.87 146.32 329.94 146.65 330.02 146.98 329.09 147.31 330.17 147.64 330.24 147.97 330.31 148.3 330.39 148.63 330.46 148.96 329.54 149.29 330.6 149.62 330.62 149.95 330.63 150.28 330.64 150.61 330.66 150.94 330.67 151.27 330.68 151.6 330.69 151.93 330.71 152.26 330.72 152.59 330.73 152.92 330.75 153.25 330.76 153.58 330.77 153.91 330.79 154.24 330.8 154.57 330.81 154.9 330.83 155.23 329.84 155.56 330.85 155.89 330.87 156.22 330.88 156.55 330.89 156.88 330.91 157.21 330.92 157.54 330.93 157.87 330.94 158.2 329.96 158.53 330.97 158.86 330.98 159.19 331 159.52 331 159.85 331 160.18 331 160.51 330 160.84 331 161.17 330 161.5 331 161.83 331 162.16 331 162.49 331 162.82 331 163.15 331 163.48 331 163.81 331 164.14 331 164.47 331 164.8 331 165.13 331 165.46 331 165.79 331 166.12 331 166.45 331 166.78 331 167.11 331 167.44 331 167.77 331 168.1 331 168.43 331 168.76 331 169.09 331 169.42 331 169.75 331 170.08 331 170.41 331 170.74 330 171.07 331 171.4 331 171.73 331 172.06 331 172.39 331 172.72 331 173.05 331 173.38 331 173.71 330 174.04 331 174.37 331 174.7 331 175.03 331 175.36 331 175.69 331 176.02 331 176.35 331 176.68 331 177.01 331 177.34 331 177.67 331 178 331 178.33 331 178.66 331 178.99 331 179.32 331 179.65 331 179.98 331 180.31 331 180.64 330 180.97 331 181.3 331 181.63 331 181.96 331 182.29 331 182.62 331 182.95 331 183.28 331 183.61 330 183.94 331 184.27 331 184.6 330 184.93 331 185.26 331 185.59 331 185.92 330 186.25 331 186.58 331 186.91 330 187.24 331 187.57 331 187.9 331 188.23 331 188.56 331 188.89 331 189.22 331 189.55 331 189.88 331 190.21 331 190.54 331 190.87 331 191.2 331 191.53 331 191.86 331 192.19 331 192.52 331 192.85 331 193.18 331 193.51 331 193.84 331 194.17 331 194.5 331 194.83 331 195.16 330 195.49 331 195.82 331 196.15 331 196.48 331 196.81 331 197.14 331 197.47 331 197.8 331 198.13 331 198.46 331 198.79 331 199.12 331 199.45 331 199.78 331 200.11 331 200.44 331 200.77 331 201.1 331 201.43 331 201.76 331 202.09 330 202.42 331 202.75 331 203.08 331 203.41 331 203.74 331 204.07 331 204.4 331 204.73 331 205.06 330 205.39 331 205.72 331 206.05 331 206.38 331 206.71 331 207.04 330 207.37 331 207.7 330 208.03 331 208.36 331 208.69 330 209.02 331 209.35 331 209.68 331 210.01 331 210.34 331 210.67 331 211 331 211.33 331 211.66 330 211.99 330 212.32 331 212.65 331 212.98 331 213.31 331 213.64 331 213.97 331 214.3 331 214.63 331 214.96 331 215.29 330 215.62 331 215.95 331 216.28 331 216.61 331 216.94 331 217.27 331 217.6 331 217.93 330 218.26 331 218.59 331 218.92 331 219.25 331 219.58 331 219.91 331 220.24 331 220.57 331 220.9 331 221.23 331 221.56 331 221.89 331 222.22 331 222.55 330 222.88 331 223.21 330 223.54 331 223.87 331 224.2 331 224.53 331 224.86 330 225.19 331 225.52 330 225.85 331 226.18 330 226.51 331 226.84 331 227.17 331 227.5 331 227.83 331 228.16 331 228.49 330 228.82 331 229.15 331 229.48 331 229.81 331 230.14 331 230.47 331 230.8 331 231.13 331 231.46 331 231.79 331 232.12 331 232.45 331 232.78 331 233.11 331 233.44 331 233.77 331 234.1 331 234.43 331 234.76 330 235.09 331 235.42 331 235.75 331 236.08 331 236.41 331 236.74 331 237.07 331 237.4 331 237.73 331 238.06 331 238.39 331 238.72 331 239.05 331 239.38 331 239.71 331 240.04 331 240.37 331 240.7 331 241.03 331 241.36 331 241.69 331 242.02 331 242.35 330 242.68 331 243.01 330 243.34 331 243.67 331 244 331 244.33 330 244.66 331 244.99 330 245.32 331 245.65 331 245.98 331 246.31 331 246.64 330 246.97 331 247.3 331 247.63 331 247.96 331 248.29 331 248.62 331 248.95 330 249.28 331 249.61 331 249.94 331 250.27 331 250.6 331 250.93 330 251.26 331 251.59 331 251.92 331 252.25 331 252.58 331 252.91 331 253.24 331 253.57 331 253.9 331 254.23 331 254.56 331 254.89 331 255.22 331 255.55 330 255.88 331 256.21 331 256.54 331 256.87 330 257.2 330 257.53 331 257.86 331 258.19 331 258.52 331 258.85 331 259.18 331 259.51 331 259.84 331 260.17 331 260.5 331 260.83 331 261.16 331 261.49 331 261.82 331 262.15 330 262.48 331 262.81 331 263.14 331 263.47 331 263.8 331 264.13 330 264.46 331 264.79 331 265.12 330 265.45 331 265.78 331 266.11 331 266.44 331 266.77 331 267.1 331 267.43 331 267.76 331 268.09 331 268.42 331 268.75 331 269.08 331 269.41 331 269.74 331 270.07 331 270.4 330 270.73 331 271.06 331 271.39 331 271.72 331 272.05 330 272.38 331 272.71 331 273.04 331 273.37 331 273.7 331 274.03 331 274.36 331 274.69 330 275.02 331 275.35 331 275.68 331 276.01 330 276.34 331 276.67 331 277 331 277.33 331 277.66 331 277.99 331 278.32 331 278.65 331 278.98 331 279.31 331 279.64 331 279.97 331 280.3 331 280.63 331 280.96 331 281.29 331 281.62 331 281.95 330 282.28 330 282.61 331 282.94 331 283.27 331 283.6 331 283.93 331 284.26 331 284.59 331 284.92 331 285.25 331 285.58 331 285.91 331 286.24 331 286.57 331 286.9 331 287.23 331 287.56 331 287.89 331 288.22 331 288.55 331 288.88 331 289.21 331 289.54 331 289.87 331 290.2 331 290.53 330 290.86 330 291.19 331 291.52 331 291.85 331 292.18 331 292.51 331 292.84 331 293.17 331 293.5 331 293.83 331 294.16 331 294.49 330 294.82 330 295.15 331 295.48 330 295.81 331 296.14 331 296.47 331 296.8 331 297.13 331 297.46 330.99 297.79 330.52 298.12 329.45 298.45 327.8 298.78 326.16 299.11 324.51 299.44 322.88 299.77 321.29 300.1 319.7 300.43 318.11 300.76 316.52 301.09 314.93 301.42 313.34 301.75 311.75 302.08 310.28 302.41 308.8 302.74 306.33 303.07 304.85 303.4 304.38 303.73 301.9 304.06 301.43 304.39 299.95 304.72 298.48 305.05 296.98 305.38 295.46 305.71 293.95 306.04 292.44 306.37 290.92 306.7 288.41 307.03 287.9 307.36 286.38 307.69 284.87 308.02 283.29 308.35 281.64 308.68 280 309.01 278.35 309.34 276.71 309.67 275.32 310 274.37 310.33 273.43 310.66 272.48 310.99 270.54 311.32 270.59 311.65 269.65 311.98 268.7 312.31 267.75 312.64 266.81 312.97 266.18 313.3 265.7 313.63 265.22 313.96 264.75 314.29 264.27 314.62 263.79 314.95 263.32 315.28 262.84 315.61 262.36 315.94 261.88 316.27 261.41 316.6 260.93 316.93 260.54 317.26 260.22 317.59 259.89 317.92 258.57 318.25 259.25 318.58 258.93 318.91 258.61 319.24 258.28 319.57 257.96 319.9 257.64 320.23 257.32 320.56 257 320.89 256.67 321.22 256.35 321.55 256.07 321.88 255.87 322.21 255.66 322.54 255.46 322.87 255.26 323.2 255.06 323.53 254.86 323.86 254.65 324.19 254.45 324.52 254.25 324.85 254.05 325.18 253.85 325.51 253.64 325.84 252.44 326.17 253.24 326.5 253.04 326.83 252.84 327.16 252.64 327.49 252.53 327.82 252.42 328.15 252.31 328.48 252.2 328.81 252.1 329.14 251.99 329.47 251.88 329.8 250.77 330.13 251.66 330.46 251.56 330.79 251.45 331.12 251.34 331.45 251.23 331.78 251.12 332.11 251.01 332.44 250.91 332.77 250.8 333.1 250.69 333.43 250.58 333.76 250.47 334.09 250.37 334.42 250.32 334.75 250.3 335.08 250.27 335.41 250.24 335.74 250.21 336.07 250.19 336.4 249.16 336.73 250.13 337.06 250.1 337.39 250.07 337.72 250.05 338.05 250.02 338.38 249.99 338.71 249.96 339.04 249.94 339.37 249.91 339.7 248.88 340.03 248.85 340.36 248.82 340.69 249.8 341.02 248.77 341.35 249.74 341.68 248.71 342.01 249.69 342.34 249.66 342.67 249.64 343 249.64 343.33 248.63 343.66 249.63 343.99 249.62 344.32 249.61 344.65 249.61 344.98 248.6 345.31 249.59 345.64 249.59 345.97 249.58 346.3 249.57 346.63 249.57 346.96 249.56 347.29 249.55 347.62 249.55 347.95 248.54 348.28 249.53 348.61 249.53 348.94 249.52 349.27 249.51 349.6 249.51 349.93 249.5 350.26 249.49 350.59 248.49 350.92 249.48 351.25 249.47 351.58 249.47 351.91 249.46 352.24 249.45 352.57 249.45 352.9 249.45 353.23 249.45 353.56 249.45 353.89 248.45 354.22 249.45 354.55 249.45 354.88 249.45 355.21 249.45 355.54 248.45 355.87 248.45 356.2 249.45 356.53 249.45 356.86 249.45 357.19 249.45 357.52 249.45 357.85 249.45 358.18 249.45 358.51 249.45 358.84 249.45 359.17 248.45 359.5 249.45 359.83 249.45 360.16 249.45 360.49 249.45 360.82 249.45 361.15 249.45 361.48 249.45 361.81 249.45 362.14 249.45 362.47 249.45 362.8 248.45 363.13 249.45 363.46 249.45 363.79 249.45 364.12 249.45 364.45 249.45 364.78 249.45 365.11 249.45 365.44 249.45 365.77 249.45 366.1 249.45 366.43 249.45 366.76 249.45 367.09 249.45 367.42 248.45 367.75 248.45 368.08 249.45 368.41 249.45 368.74 249.45 369.07 249.45 369.4 249.45 369.73 249.45 370.06 249.45 370.39 249.45 370.72 249.45 371.05 248.45 371.38 249.45 371.71 249.45 372.04 249.45 372.37 249.45 372.7 249.45 373.03 249.45 373.36 248.45 373.69 249.45 374.02 249.45 374.35 249.45 374.68 249.45 375.01 248.45 375.34 249.45 375.67 249.45 376 249.45 376.33 249.45 376.66 249.45 376.99 249.45 377.32 249.45 377.65 249.45 377.98 249.45 378.31 249.45 378.64 249.45 378.97 249.45 379.3 249.45 379.63 249.45 379.96 249.45 380.29 249.45 380.62 249.45 380.95 249.45 381.28 249.45 381.61 249.45 381.94 249.45 382.27 249.45 382.6 249.45 382.93 249.45 383.26 248.45 383.59 249.45 383.92 249.45 384.25 249.45 384.58 249.45 384.91 249.45 385.24 249.45 385.57 249.45 385.9 249.45 386.23 249.45 386.56 249.45 386.89 249.45 387.22 249.45 387.55 249.45 387.88 249.45 388.21 249.45 388.54 249.45 388.87 249.45 389.2 249.45 389.53 249.45 389.86 249.45 390.19 249.45 390.52 249.45 390.85 249.45 391.18 249.45 391.51 248.45 391.84 248.45 392.17 249.45 392.5 249.45 392.83 249.45 393.16 249.45 393.49 249.45 393.82 248.45 394.15 249.45 394.48 249.45 394.81 249.45 395.14 248.45 395.47 249.45 395.8 249.45 396.13 249.45 396.46 249.45 396.79 249.45 397.12 249.45 397.45 249.45 397.78 249.45 398.11 249.45 398.44 249.45 398.77 249.45 399.1 249.45 399.43 248.45 399.76 249.45 400.09 249.45 400.42 249.45 400.75 248.45 401.08 249.45 401.41 249.45 401.74 249.45 402.07 249.45 402.4 249.45 402.73 249.45 403.06 248.45 403.39 249.45 403.72 249.45 404.05 249.45 404.38 249.45 404.71 249.45 405.04 249.45 405.37 249.45 405.7 249.45 406.03 249.45 406.36 249.45 406.69 249.45 407.02 249.45 407.35 249.45 407.68 249.45 408.01 249.45 408.34 249.45 408.67 249.45 409 249.45 409.33 249.45 409.66 249.45 409.99 249.45 410.32 249.45 410.65 249.45 410.98 249.45 411.31 249.45 411.64 249.45 411.97 249.45 412.3 249.45 412.63 248.45 412.96 249.45 413.29 249.45 413.62 249.45 413.95 249.45 414.28 249.45 414.61 249.45 414.94 249.45 415.27 249.45 415.6 249.45 415.93 249.45 416.26 249.45 416.59 249.45 416.92 249.45 417.25 249.45 417.58 249.45 417.91 249.45 418.24 248.45 418.57 249.45 418.9 249.44 419.23 252.88 419.56 261.17 419.89 268.45 420.22 275.73 420.55 283.03 420.88 288.26 421.21 293.14 421.54 298.01 421.87 302.88 422.2 307.77 422.53 309.82 422.86 310.87 423.19 313.92 423.52 315.97 423.85 318.03 424.18 320.08 424.51 321.21 424.84 321.35 425.17 321.95 425.5 322.54 425.83 323.13 426.16 323.73 426.49 324.32 426.82 324.92 427.15 325.52 427.48 325.79 427.81 326.06 428.14 326.33 428.47 326.6 428.8 326.87 429.13 327.14 429.46 327.42 429.79 326.69 430.12 327.96 430.45 327.23 430.78 328.5 431.11 327.77 431.44 327.87 431.77 328.95 432.1 329.02 432.43 329.09 432.76 329.17 433.09 329.24 433.42 328.32 433.75 328.39 434.08 329.46 434.41 329.54 434.74 329.61 435.07 329.69 435.4 329.76 435.73 329.83 436.06 329.91 436.39 329.98 436.72 330.06 437.05 330.13 437.38 330.2 437.71 330.28 438.04 330.35 438.37 330.43 438.7 330.5 439.03 330.57 439.36 330.61 439.69 330.62 440.02 330.64 440.35 330.65 440.68 330.66 441.01 329.68 441.34 329.69 441.67 330.7 442 330.71 442.33 330.73 442.66 330.74 442.99 329.75 443.32 330.77 443.65 330.78 443.98 329.79 444.31 330.81 444.64 330.82 444.97 330.83 445.3 330.85 445.63 330.86 445.96 330.87 446.29 330.89 446.62 329.9 446.95 330.91 447.28 330.93 447.61 330.94 447.94 330.95 448.27 330.96 448.6 330.98 448.93 330.99 449.26 331 449.59 331 449.92 331 450.25 330 450.58 331 450.91 331 451.24 331 451.57 331 451.9 330 452.23 331 452.56 331 452.89 331 453.22 331 453.55 331 453.88 331 454.21 331 454.54 331 454.87 331 455.2 331 455.53 331 455.86 331 456.19 331 456.52 331 456.85 331 457.18 330 457.51 331 457.84 330 458.17 331 458.5 331 458.83 331 459.16 331 459.49 331 459.82 331 460.15 331 460.48 331 460.81 331 461.14 330 461.47 331 461.8 330 462.13 331 462.46 331 462.79 331 463.12 330 463.45 331 463.78 331 464.11 331 464.44 331 464.77 331 465.1 331 465.43 331 465.76 331 466.09 331 466.42 331 466.75 331 467.08 331 467.41 331 467.74 331 468.07 331 468.4 330 468.73 331 469.06 331 469.39 331 469.72 331 470.05 331 470.38 331 470.71 331 471.04 331 471.37 331 471.7 331 472.03 331 472.36 331 472.69 331 473.02 330 473.35 331 473.68 331 474.01 331 474.34 331 474.67 331 475 330 475.33 331 475.66 331 475.99 331 476.32 331 476.65 330 476.98 331 477.31 331 477.64 331 477.97 331 478.3 331 478.63 331 478.96 331 479.29 330 479.62 331 479.95 330 480.28 331 480.61 331 480.94 331 481.27 331 481.6 331 481.93 330 482.26 331 482.59 331 482.92 331 483.25 331 483.58 331 483.91 330 484.24 331 484.57 330 484.9 331 485.23 331 485.56 331 485.89 331 486.22 331 486.55 331 486.88 331 487.21 331 487.54 331 487.87 331 488.2 331 488.53 330 488.86 331 489.19 331 489.52 331 489.85 331 490.18 331 490.51 331 490.84 331 491.17 330 491.5 331 491.83 331 492.16 331 492.49 331 492.82 331 493.15 331 493.48 331 493.81 331 494.14 331 494.47 331 494.8 331 495.13 331 495.46 331 495.79 331 496.12 331 496.45 331 496.78 330 497.11 331 497.44 331 497.77 330 498.1 331 498.43 331 498.76 330 499.09 331 499.42 331 499.75 331 500.08 331 500.41 331 500.74 331 501.07 330 501.4 331 501.73 331 502.06 331 502.39 331 502.72 331 503.05 331 503.38 331 503.71 331 504.04 330 504.37 331 504.7 331 505.03 331 505.36 331 505.69 331 506.02 331 506.35 331 506.68 331 507.01 331 507.34 331 507.67 331 508 331 508.33 331 508.66 331 508.99 330 509.32 331 509.65 331 509.98 331 510.31 331 510.64 331 510.97 331 511.3 331 511.63 331 511.96 331 512.29 330 512.62 331 512.95 330 513.28 331 513.61 331 513.94 331 514.27 331 514.6 331 514.93 331 515.26 331 515.59 331 515.92 331 516.25 331 516.58 331 516.91 331 517.24 331 517.57 330 517.9 330 518.23 331 518.56 331 518.89 331 519.22 331 519.55 331 519.88 330 520.21 331 520.54 331 520.87 331 521.2 330 521.53 331 521.86 331 522.19 331 522.52 331 522.85 330 523.18 331 523.51 331 523.84 330 524.17 331 524.5 331 524.83 331 525.16 331 525.49 331 525.82 331 526.15 331 526.48 331 526.81 331 527.14 331 527.47 331 527.8 330 528.13 331 528.46 330 528.79 331 529.12 331 529.45 331 529.78 331 530.11 331 530.44 331 530.77 331 531.1 331 531.43 331 531.76 331 532.09 331 532.42 331 532.75 331 533.08 331 533.41 330 533.74 331 534.07 330 534.4 331 534.73 330 535.06 331 535.39 331 535.72 330 536.05 331 536.38 331 536.71 331 537.04 331 537.37 330 537.7 331 538.03 331 538.36 331 538.69 331 539.02 331 539.35 331 539.68 330 540.01 331 540.34 331 540.67 331 541 330 541.33 331 541.66 331 541.99 331 542.32 331 542.65 331 542.98 331 543.31 331 543.64 331 543.97 331 544.3 330 544.63 331 544.96 331 545.29 331 545.62 331 545.95 331 546.28 331 546.61 331 546.94 331 547.27 331 547.6 331 547.93 330 548.26 330 548.59 331 548.92 331 549.25 331 549.58 330 549.91 331 550.24 331 550.57 331 550.9 330 551.23 331 551.56 331 551.89 331 552.22 331 552.55 331 552.88 331 553.21 331 553.54 331 553.87 331 554.2 331 554.53 331 554.86 331 555.19 330 555.52 331 555.85 330 556.18 330 556.51 330 556.84 331 557.17 330 557.5 331 557.83 331 558.16 331 558.49 331 558.82 331 559.15 331 559.48 331 559.81 331 560.14 331 560.47 331 560.8 331 561.13 331 561.46 331 561.79 330 562.12 331 562.45 331 562.78 331 563.11 331 563.44 331 563.77 331 564.1 331 564.43 331 564.76 330 565.09 331 565.42 331 565.75 331 566.08 331 566.41 331 566.74 331 567.07 331 567.4 331 567.73 331 568.06 331 568.39 331 568.72 331 569.05 331 569.38 331 569.71 331 570.04 331 570.37 331 570.7 331 571.03 331 571.36 331 571.69 331 572.02 330 572.35 331 572.68 331 573.01 331 573.34 331 573.67 331 574 331 574.33 331 574.66 330 574.99 331 575.32 331 575.65 331 575.98 331 576.31 331 576.64 331 576.97 331 577.3 331 577.63 331 577.96 331 578.29 331 578.62 331 578.95 331 579.28 331 579.61 331 579.94 330 580.27 331 580.6 331 580.93 331 581.26 331 581.59 331 581.92 331 582.25 331 582.58 331 582.91 331 583.24 331 583.57 331 583.9 331 584.23 331 584.56 331 584.89 331 585.22 331 585.55 331 585.88 331 586.21 331 586.54 331 586.87 331 587.2 331 587.53 330.61 587.86 329.75 588.19 328.1 588.52 326.46 588.85 324.81 589.18 323.17 589.51 321.58 589.84 318.99 590.17 318.4 590.5 316.81 590.83 315.22 591.16 313.63 591.49 312.04 591.82 310.54 592 309.74 L592 320.78 591.82 321.66 591.49 323.26 591.16 324.86 590.83 326.46 590.5 328.06 590.17 329.67 589.84 331.32 589.51 333.98 589.18 334.63 588.85 336.29 588.52 336.76 588.19 337 587.86 337 587.53 337 587.2 337 586.87 337 586.54 338 586.21 337 585.88 337 585.55 337 585.22 337 584.89 337 584.56 337 584.23 337 583.9 337 583.57 337 583.24 337 582.91 337 582.58 337 582.25 337 581.92 337 581.59 337 581.26 337 580.93 337 580.6 338 580.27 337 579.94 337 579.61 337 579.28 337 578.95 337 578.62 337 578.29 337 577.96 337 577.63 337 577.3 338 576.97 337 576.64 337 576.31 337 575.98 337 575.65 337 575.32 337 574.99 337 574.66 338 574.33 337 574 338 573.67 338 573.34 337 573.01 337 572.68 337 572.35 337 572.02 337 571.69 337 571.36 337 571.03 337 570.7 337 570.37 337 570.04 337 569.71 337 569.38 337 569.05 337 568.72 337 568.39 337 568.06 337 567.73 337 567.4 337 567.07 337 566.74 338 566.41 337 566.08 337 565.75 337 565.42 337 565.09 337 564.76 337 564.43 337 564.1 337 563.77 337 563.44 337 563.11 337 562.78 337 562.45 337 562.12 337 561.79 337 561.46 337 561.13 337 560.8 337 560.47 337 560.14 337 559.81 337 559.48 337 559.15 338 558.82 337 558.49 337 558.16 337 557.83 337 557.5 337 557.17 338 556.84 337 556.51 337 556.18 337 555.85 337 555.52 337 555.19 337 554.86 337 554.53 337 554.2 337 553.87 338 553.54 337 553.21 338 552.88 337 552.55 337 552.22 337 551.89 337 551.56 337 551.23 337 550.9 337 550.57 338 550.24 337 549.91 337 549.58 337 549.25 337 548.92 337 548.59 337 548.26 338 547.93 337 547.6 337 547.27 337 546.94 337 546.61 337 546.28 337 545.95 337 545.62 337 545.29 337 544.96 337 544.63 337 544.3 337 543.97 337 543.64 337 543.31 337 542.98 338 542.65 337 542.32 337 541.99 338 541.66 337 541.33 337 541 337 540.67 337 540.34 337 540.01 337 539.68 337 539.35 337 539.02 337 538.69 337 538.36 337 538.03 337 537.7 338 537.37 338 537.04 337 536.71 337 536.38 337 536.05 337 535.72 337 535.39 338 535.06 337 534.73 337 534.4 337 534.07 338 533.74 337 533.41 337 533.08 337 532.75 337 532.42 337 532.09 337 531.76 337 531.43 337 531.1 337 530.77 337 530.44 337 530.11 337 529.78 338 529.45 337 529.12 337 528.79 337 528.46 337 528.13 337 527.8 337 527.47 337 527.14 337 526.81 337 526.48 337 526.15 337 525.82 337 525.49 337 525.16 337 524.83 337 524.5 337 524.17 337 523.84 337 523.51 337 523.18 337 522.85 337 522.52 337 522.19 337 521.86 337 521.53 337 521.2 337 520.87 337 520.54 337 520.21 337 519.88 337 519.55 337 519.22 337 518.89 337 518.56 337 518.23 337 517.9 338 517.57 337 517.24 337 516.91 337 516.58 337 516.25 337 515.92 337 515.59 337 515.26 338 514.93 337 514.6 337 514.27 337 513.94 337 513.61 337 513.28 337 512.95 337 512.62 337 512.29 337 511.96 337 511.63 337 511.3 337 510.97 337 510.64 337 510.31 337 509.98 337 509.65 337 509.32 337 508.99 337 508.66 337 508.33 337 508 337 507.67 337 507.34 338 507.01 338 506.68 337 506.35 337 506.02 337 505.69 337 505.36 337 505.03 337 504.7 337 504.37 337 504.04 337 503.71 337 503.38 338 503.05 337 502.72 338 502.39 337 502.06 337 501.73 338 501.4 337 501.07 337 500.74 337 500.41 337 500.08 337 499.75 338 499.42 337 499.09 337 498.76 337 498.43 337 498.1 337 497.77 338 497.44 337 497.11 337 496.78 338 496.45 337 496.12 338 495.79 338 495.46 337 495.13 338 494.8 337 494.47 337 494.14 337 493.81 337 493.48 337 493.15 337 492.82 338 492.49 337 492.16 337 491.83 337 491.5 337 491.17 337 490.84 338 490.51 337 490.18 337 489.85 338 489.52 337 489.19 337 488.86 337 488.53 337 488.2 337 487.87 337 487.54 337 487.21 338 486.88 337 486.55 338 486.22 337 485.89 337 485.56 338 485.23 337 484.9 337 484.57 337 484.24 337 483.91 338 483.58 338 483.25 337 482.92 337 482.59 337 482.26 337 481.93 337 481.6 337 481.27 337 480.94 337 480.61 337 480.28 337 479.95 337 479.62 337 479.29 337 478.96 337 478.63 337 478.3 337 477.97 337 477.64 337 477.31 337 476.98 337 476.65 337 476.32 337 475.99 337 475.66 337 475.33 337 475 337 474.67 337 474.34 337 474.01 337 473.68 337 473.35 337 473.02 337 472.69 337 472.36 337 472.03 337 471.7 337 471.37 337 471.04 337 470.71 338 470.38 337 470.05 337 469.72 337 469.39 337 469.06 337 468.73 337 468.4 338 468.07 338 467.74 337 467.41 337 467.08 337 466.75 338 466.42 337 466.09 338 465.76 337 465.43 338 465.1 337 464.77 337 464.44 337 464.11 338 463.78 338 463.45 337 463.12 338 462.79 337 462.46 337 462.13 337 461.8 337 461.47 337 461.14 337 460.81 337 460.48 337 460.15 337 459.82 338 459.49 338 459.16 337 458.83 337 458.5 337 458.17 337 457.84 338 457.51 337 457.18 338 456.85 337 456.52 337 456.19 337 455.86 337 455.53 338 455.2 337 454.87 337 454.54 337 454.21 337 453.88 337 453.55 338 453.22 338 452.89 337 452.56 337 452.23 337 451.9 337 451.57 337 451.24 337 450.91 337 450.58 337 450.25 337 449.92 337 449.59 338 449.26 337 448.93 338 448.6 337 448.27 338 447.94 337 447.61 336.98 447.28 336.97 446.95 336.96 446.62 336.94 446.29 336.93 445.96 336.92 445.63 337.9 445.3 336.89 444.97 336.88 444.64 336.86 444.31 336.85 443.98 337.84 443.65 336.82 443.32 336.81 442.99 336.8 442.66 336.78 442.33 336.77 442 336.76 441.67 336.74 441.34 336.73 441.01 336.72 440.68 336.7 440.35 336.69 440.02 336.68 439.69 336.66 439.36 336.65 439.03 336.64 438.7 336.62 438.37 336.61 438.04 336.6 437.71 336.52 437.38 336.45 437.05 336.37 436.72 336.3 436.39 337.22 436.06 336.15 435.73 336.07 435.4 336 435.07 335.93 434.74 335.85 434.41 335.78 434.08 336.7 433.75 335.63 433.42 335.55 433.09 335.48 432.76 335.4 432.43 335.33 432.1 335.26 431.77 335.18 431.44 335.11 431.11 335.03 430.78 334.96 430.45 334.88 430.12 334.81 429.79 334.58 429.46 334.3 429.13 335.03 428.8 333.76 428.47 333.48 428.14 334.21 427.81 332.94 427.48 332.67 427.15 333.39 426.82 332.12 426.49 331.85 426.16 331.57 425.83 331.08 425.5 330.48 425.17 329.88 424.84 329.29 424.51 328.24 424.18 327.64 423.85 327.04 423.52 325.64 423.19 323.57 422.86 321.51 422.53 319.44 422.2 317.38 421.87 315.31 421.54 312.72 421.21 307.82 420.88 302.92 420.55 298.01 420.22 293.11 419.89 287.39 419.56 280.06 419.23 272.73 418.9 265.4 418.57 258.37 418.24 254.95 417.91 254.95 417.58 254.95 417.25 254.95 416.92 255.95 416.59 254.95 416.26 254.95 415.93 254.95 415.6 254.95 415.27 254.95 414.94 254.95 414.61 254.95 414.28 254.95 413.95 254.95 413.62 254.95 413.29 254.95 412.96 254.95 412.63 254.95 412.3 254.95 411.97 254.95 411.64 254.95 411.31 254.95 410.98 254.95 410.65 255.95 410.32 254.95 409.99 254.95 409.66 254.95 409.33 254.95 409 254.95 408.67 254.95 408.34 254.95 408.01 254.95 407.68 254.95 407.35 254.95 407.02 254.95 406.69 254.95 406.36 254.95 406.03 254.95 405.7 255.95 405.37 254.95 405.04 254.95 404.71 254.95 404.38 255.95 404.05 254.95 403.72 254.95 403.39 254.95 403.06 254.95 402.73 254.95 402.4 254.95 402.07 254.95 401.74 254.95 401.41 254.95 401.08 254.95 400.75 254.95 400.42 254.95 400.09 254.95 399.76 254.95 399.43 254.95 399.1 254.95 398.77 254.95 398.44 254.95 398.11 255.95 397.78 254.95 397.45 254.95 397.12 254.95 396.79 254.95 396.46 254.95 396.13 254.95 395.8 254.95 395.47 254.95 395.14 254.95 394.81 254.95 394.48 254.95 394.15 254.95 393.82 254.95 393.49 254.95 393.16 254.95 392.83 254.95 392.5 254.95 392.17 254.95 391.84 255.95 391.51 254.95 391.18 254.95 390.85 254.95 390.52 254.95 390.19 255.95 389.86 254.95 389.53 254.95 389.2 254.95 388.87 254.95 388.54 254.95 388.21 254.95 387.88 254.95 387.55 254.95 387.22 254.95 386.89 255.95 386.56 254.95 386.23 254.95 385.9 254.95 385.57 254.95 385.24 254.95 384.91 254.95 384.58 254.95 384.25 254.95 383.92 254.95 383.59 254.95 383.26 254.95 382.93 254.95 382.6 254.95 382.27 254.95 381.94 254.95 381.61 254.95 381.28 254.95 380.95 254.95 380.62 254.95 380.29 254.95 379.96 254.95 379.63 254.95 379.3 255.95 378.97 254.95 378.64 255.95 378.31 254.95 377.98 254.95 377.65 254.95 377.32 255.95 376.99 254.95 376.66 255.95 376.33 254.95 376 254.95 375.67 255.95 375.34 254.95 375.01 254.95 374.68 254.95 374.35 254.95 374.02 254.95 373.69 254.95 373.36 254.95 373.03 254.95 372.7 254.95 372.37 254.95 372.04 254.95 371.71 254.95 371.38 254.95 371.05 254.95 370.72 254.95 370.39 255.95 370.06 255.95 369.73 254.95 369.4 254.95 369.07 254.95 368.74 254.95 368.41 254.95 368.08 254.95 367.75 254.95 367.42 254.95 367.09 254.95 366.76 254.95 366.43 255.95 366.1 255.95 365.77 254.95 365.44 254.95 365.11 254.95 364.78 255.95 364.45 254.95 364.12 254.95 363.79 255.95 363.46 254.95 363.13 254.95 362.8 254.95 362.47 254.95 362.14 254.95 361.81 255.95 361.48 254.95 361.15 254.95 360.82 254.95 360.49 254.95 360.16 254.95 359.83 255.95 359.5 254.95 359.17 254.95 358.84 254.95 358.51 254.95 358.18 255.95 357.85 254.95 357.52 254.95 357.19 254.95 356.86 254.95 356.53 254.95 356.2 254.95 355.87 254.95 355.54 254.95 355.21 254.95 354.88 254.95 354.55 254.95 354.22 254.95 353.89 255.95 353.56 254.95 353.23 254.96 352.9 254.96 352.57 254.97 352.24 254.98 351.91 254.98 351.58 254.99 351.25 256 350.92 256 350.59 255.01 350.26 255.02 349.93 255.02 349.6 255.03 349.27 255.04 348.94 255.04 348.61 255.05 348.28 255.06 347.95 255.06 347.62 255.07 347.29 255.08 346.96 255.08 346.63 255.09 346.3 255.1 345.97 256.1 345.64 255.11 345.31 255.12 344.98 255.12 344.65 255.13 344.32 255.14 343.99 255.14 343.66 255.15 343.33 255.17 343 255.2 342.67 255.22 342.34 255.25 342.01 255.28 341.68 255.31 341.35 255.34 341.02 255.36 340.69 255.39 340.36 256.42 340.03 255.45 339.7 255.48 339.37 255.5 339.04 255.53 338.71 256.56 338.38 255.59 338.05 255.62 337.72 255.64 337.39 255.67 337.06 255.7 336.73 255.73 336.4 255.76 336.07 255.78 335.74 255.81 335.41 255.84 335.08 256.91 334.75 256.02 334.42 256.13 334.09 256.23 333.76 256.34 333.43 256.45 333.1 256.56 332.77 256.67 332.44 256.78 332.11 257.89 331.78 257 331.45 257.1 331.12 257.21 330.79 258.32 330.46 257.43 330.13 257.54 329.8 257.65 329.47 257.76 329.14 258.87 328.81 257.97 328.48 258.08 328.15 258.22 327.82 258.42 327.49 258.63 327.16 258.83 326.83 259.03 326.5 260.24 326.17 259.44 325.84 259.64 325.51 259.85 325.18 260.05 324.85 260.25 324.52 261.46 324.19 260.66 323.86 260.86 323.53 261.07 323.2 261.27 322.87 261.47 322.54 261.68 322.21 262 321.88 262.33 321.55 262.65 321.22 262.97 320.89 263.3 320.56 263.62 320.23 263.95 319.9 264.27 319.57 264.59 319.24 264.92 318.91 265.24 318.58 265.57 318.25 265.89 317.92 266.21 317.59 266.66 317.26 267.14 316.93 267.62 316.6 269.1 316.27 268.58 315.94 270.06 315.61 269.54 315.28 270.02 314.95 270.5 314.62 271.98 314.29 271.46 313.96 271.94 313.63 272.73 313.3 273.68 312.97 274.64 312.64 275.59 312.31 276.54 311.98 277.49 311.65 279.44 311.32 279.39 310.99 280.35 310.66 282.3 310.33 282.93 310 284.58 309.67 286.24 309.34 287.89 309.01 289.55 308.68 292.09 308.35 292.62 308.02 294.14 307.69 295.66 307.36 297.18 307.03 298.71 306.7 300.23 306.37 302.75 306.04 303.28 305.71 305.77 305.38 306.25 305.05 308.74 304.72 309.22 304.39 310.71 304.06 313.19 303.73 313.68 303.4 315.16 303.07 316.64 302.74 318.17 302.41 320.77 302.08 321.37 301.75 322.97 301.42 324.57 301.09 326.17 300.76 327.77 300.43 329.37 300.1 331.02 299.77 332.68 299.44 334.33 299.11 335.99 298.78 336.67 298.45 337 298.12 337 297.79 337 297.46 337 297.13 337 296.8 337 296.47 337 296.14 337 295.81 337 295.48 337 295.15 337 294.82 337 294.49 337 294.16 337 293.83 337 293.5 337 293.17 337 292.84 337 292.51 338 292.18 337 291.85 337 291.52 337 291.19 337 290.86 337 290.53 337 290.2 338 289.87 337 289.54 337 289.21 337 288.88 338 288.55 337 288.22 337 287.89 337 287.56 337 287.23 337 286.9 337 286.57 337 286.24 337 285.91 337 285.58 337 285.25 338 284.92 337 284.59 338 284.26 337 283.93 338 283.6 337 283.27 338 282.94 337 282.61 337 282.28 337 281.95 337 281.62 337 281.29 337 280.96 337 280.63 337 280.3 337 279.97 337 279.64 337 279.31 337 278.98 338 278.65 337 278.32 337 277.99 337 277.66 337 277.33 337 277 337 276.67 338 276.34 337 276.01 337 275.68 337 275.35 337 275.02 337 274.69 337 274.36 337 274.03 337 273.7 337 273.37 337 273.04 338 272.71 337 272.38 337 272.05 337 271.72 337 271.39 337 271.06 337 270.73 337 270.4 337 270.07 337 269.74 337 269.41 337 269.08 337 268.75 337 268.42 337 268.09 337 267.76 337 267.43 337 267.1 337 266.77 338 266.44 337 266.11 337 265.78 337 265.45 337 265.12 337 264.79 337 264.46 338 264.13 337 263.8 337 263.47 337 263.14 337 262.81 338 262.48 337 262.15 337 261.82 337 261.49 337 261.16 337 260.83 337 260.5 337 260.17 338 259.84 337 259.51 337 259.18 338 258.85 337 258.52 337 258.19 337 257.86 337 257.53 337 257.2 337 256.87 338 256.54 337 256.21 337 255.88 337 255.55 337 255.22 337 254.89 338 254.56 338 254.23 337 253.9 337 253.57 337 253.24 337 252.91 337 252.58 337 252.25 337 251.92 337 251.59 337 251.26 337 250.93 337 250.6 337 250.27 338 249.94 337 249.61 337 249.28 337 248.95 337 248.62 337 248.29 338 247.96 337 247.63 337 247.3 338 246.97 338 246.64 337 246.31 337 245.98 337 245.65 337 245.32 338 244.99 337 244.66 337 244.33 337 244 337 243.67 337 243.34 337 243.01 337 242.68 337 242.35 337 242.02 337 241.69 337 241.36 337 241.03 337 240.7 337 240.37 338 240.04 337 239.71 337 239.38 337 239.05 337 238.72 338 238.39 337 238.06 337 237.73 337 237.4 337 237.07 337 236.74 337 236.41 337 236.08 337 235.75 337 235.42 338 235.09 337 234.76 338 234.43 337 234.1 337 233.77 338 233.44 337 233.11 337 232.78 337 232.45 337 232.12 337 231.79 338 231.46 337 231.13 337 230.8 337 230.47 337 230.14 337 229.81 337 229.48 337 229.15 337 228.82 337 228.49 337 228.16 337 227.83 337 227.5 337 227.17 337 226.84 338 226.51 337 226.18 337 225.85 337 225.52 337 225.19 337 224.86 338 224.53 337 224.2 337 223.87 338 223.54 337 223.21 337 222.88 337 222.55 337 222.22 337 221.89 337 221.56 337 221.23 337 220.9 337 220.57 337 220.24 337 219.91 337 219.58 337 219.25 337 218.92 337 218.59 337 218.26 337 217.93 337 217.6 337 217.27 337 216.94 337 216.61 337 216.28 338 215.95 337 215.62 337 215.29 337 214.96 337 214.63 337 214.3 337 213.97 337 213.64 338 213.31 337 212.98 337 212.65 338 212.32 337 211.99 337 211.66 337 211.33 337 211 338 210.67 337 210.34 338 210.01 337 209.68 337 209.35 337 209.02 337 208.69 337 208.36 337 208.03 337 207.7 338 207.37 337 207.04 337 206.71 337 206.38 337 206.05 337 205.72 337 205.39 337 205.06 337 204.73 337 204.4 337 204.07 337 203.74 337 203.41 337 203.08 337 202.75 338 202.42 337 202.09 337 201.76 337 201.43 337 201.1 338 200.77 337 200.44 337 200.11 337 199.78 337 199.45 337 199.12 337 198.79 337 198.46 337 198.13 337 197.8 337 197.47 337 197.14 337 196.81 337 196.48 337 196.15 337 195.82 337 195.49 337 195.16 337 194.83 337 194.5 337 194.17 338 193.84 337 193.51 337 193.18 337 192.85 338 192.52 337 192.19 338 191.86 337 191.53 337 191.2 337 190.87 337 190.54 337 190.21 337 189.88 337 189.55 337 189.22 337 188.89 337 188.56 337 188.23 337 187.9 338 187.57 337 187.24 337 186.91 337 186.58 337 186.25 337 185.92 337 185.59 337 185.26 337 184.93 337 184.6 338 184.27 337 183.94 337 183.61 337 183.28 338 182.95 337 182.62 337 182.29 337 181.96 337 181.63 337 181.3 337 180.97 337 180.64 337 180.31 337 179.98 337 179.65 338 179.32 337 178.99 337 178.66 337 178.33 337 178 337 177.67 337 177.34 337 177.01 337 176.68 338 176.35 337 176.02 337 175.69 337 175.36 337 175.03 337 174.7 337 174.37 337 174.04 337 173.71 337 173.38 337 173.05 337 172.72 337 172.39 337 172.06 337 171.73 337 171.4 337 171.07 337 170.74 338 170.41 337 170.08 337 169.75 337 169.42 337 169.09 338 168.76 337 168.43 337 168.1 337 167.77 337 167.44 337 167.11 337 166.78 337 166.45 337 166.12 337 165.79 337 165.46 337 165.13 337 164.8 337 164.47 338 164.14 337 163.81 337 163.48 337 163.15 337 162.82 337 162.49 337 162.16 337 161.83 337 161.5 337 161.17 337 160.84 337 160.51 337 160.18 337 159.85 338 159.52 337 159.19 337 158.86 337 158.53 337 158.2 337 157.87 336.99 157.54 336.98 157.21 336.96 156.88 336.95 156.55 336.94 156.22 336.92 155.89 336.91 155.56 336.9 155.23 336.88 154.9 336.87 154.57 336.86 154.24 336.84 153.91 336.83 153.58 336.82 153.25 336.8 152.92 336.79 152.59 336.78 152.26 336.76 151.93 336.75 151.6 336.74 151.27 336.72 150.94 336.71 150.61 336.7 150.28 337.68 149.95 336.67 149.62 336.66 149.29 336.64 148.96 336.63 148.63 336.62 148.3 337.6 147.97 336.56 147.64 336.48 147.31 336.41 146.98 336.33 146.65 336.26 146.32 336.19 145.99 336.11 145.66 336.04 145.33 335.96 145 335.89 144.67 335.81 144.34 335.74 144.01 335.66 143.68 335.59 143.35 335.52 143.02 335.44 142.69 335.37 142.36 335.29 142.03 335.22 141.7 335.14 141.37 335.07 141.04 335.99 140.71 334.92 140.38 334.84 140.05 334.71 139.72 335.44 139.39 334.16 139.06 334.89 138.73 333.62 138.4 334.34 138.07 333.07 137.74 332.8 137.41 332.52 137.08 332.25 136.75 331.98 136.42 331.7 136.09 331.37 135.76 330.77 135.43 330.17 135.1 329.58 134.77 328.98 134.44 327.93 134.11 327.33 133.78 326.64 133.45 325.57 133.12 322.51 132.79 320.44 132.46 319.38 132.13 316.31 131.8 315.24 131.47 310.2 131.14 305.29 130.81 300.39 130.48 295.49 130.15 291.58 129.82 283.62 129.49 276.29 129.16 268.96 128.83 261.63 128.5 256.22 128.17 254.95 127.84 255.95 127.51 254.95 127.18 255.95 126.85 254.95 126.52 255.95 126.19 254.95 125.86 254.95 125.53 254.95 125.2 254.95 124.87 254.95 124.54 254.95 124.21 254.95 123.88 254.95 123.55 254.95 123.22 254.95 122.89 254.95 122.56 254.95 122.23 254.95 121.9 254.95 121.57 254.95 121.24 255.95 120.91 254.95 120.58 254.95 120.25 254.95 119.92 254.95 119.59 254.95 119.26 254.95 118.93 254.95 118.6 254.95 118.27 254.95 117.94 254.95 117.61 255.95 117.28 254.95 116.95 254.95 116.62 254.95 116.29 254.95 115.96 254.95 115.63 254.95 115.3 254.95 114.97 254.95 114.64 254.95 114.31 254.95 113.98 255.95 113.65 254.95 113.32 254.95 112.99 255.95 112.66 254.95 112.33 254.95 112 254.95 111.67 254.95 111.34 254.95 111.01 254.95 110.68 254.95 110.35 255.95 110.02 254.95 109.69 254.95 109.36 255.95 109.03 254.95 108.7 255.95 108.37 254.95 108.04 254.95 107.71 254.95 107.38 254.95 107.05 254.95 106.72 254.95 106.39 255.95 106.06 254.95 105.73 254.95 105.4 254.95 105.07 254.95 104.74 255.95 104.41 254.95 104.08 254.95 103.75 254.95 103.42 254.95 103.09 254.95 102.76 254.95 102.43 254.95 102.1 254.95 101.77 254.95 101.44 254.95 101.11 254.95 100.78 254.95 100.45 254.95 100.12 254.95 99.79 254.95 99.46 254.95 99.13 255.95 98.8 254.95 98.47 254.95 98.14 254.95 97.81 254.95 97.48 254.95 97.15 254.95 96.82 254.95 96.49 254.95 96.16 254.95 95.83 254.95 95.5 254.95 95.17 254.95 94.84 254.95 94.51 254.95 94.18 254.95 93.85 254.95 93.52 254.95 93.19 254.95 92.86 254.95 92.53 254.95 92.2 254.95 91.87 254.95 91.54 254.95 91.21 254.95 90.88 254.95 90.55 255.95 90.22 254.95 89.89 254.95 89.56 255.95 89.23 254.95 88.9 255.95 88.57 254.95 88.24 254.95 87.91 254.95 87.58 255.95 87.25 254.95 86.92 254.95 86.59 254.95 86.26 254.95 85.93 255.95 85.6 254.95 85.27 254.95 84.94 254.95 84.61 255.95 84.28 254.95 83.95 255.95 83.62 254.95 83.29 254.95 82.96 254.95 82.63 254.95 82.3 254.95 81.97 255.95 81.64 254.95 81.31 254.95 80.98 254.95 80.65 254.95 80.32 254.95 79.99 254.95 79.66 254.95 79.33 254.95 79 255.95 78.67 255.95 78.34 254.95 78.01 254.95 77.68 254.95 77.35 254.95 77.02 254.95 76.69 254.95 76.36 254.95 76.03 254.95 75.7 254.95 75.37 254.95 75.04 254.95 74.71 254.95 74.38 254.95 74.05 254.95 73.72 254.95 73.39 254.95 73.06 254.95 72.73 254.95 72.4 254.95 72.07 254.95 71.74 254.95 71.41 254.95 71.08 254.95 70.75 254.95 70.42 254.95 70.09 255.95 69.76 254.95 69.43 254.95 69.1 254.95 68.77 254.95 68.44 254.95 68.11 255.95 67.78 254.95 67.45 254.95 67.12 254.95 66.79 254.95 66.46 254.95 66.13 254.95 65.8 254.95 65.47 255.95 65.14 254.95 64.81 254.95 64.48 254.95 64.15 254.95 63.82 254.95 63.49 254.95 63.16 254.95 62.83 254.96 62.5 254.97 62.17 254.97 61.84 254.98 61.51 254.99 61.18 254.99 60.85 255 60.52 255.01 60.19 256.01 59.86 255.02 59.53 255.03 59.2 255.03 58.87 255.04 58.54 255.05 58.21 255.05 57.88 255.06 57.55 255.07 57.22 255.07 56.89 255.08 56.56 255.09 56.23 255.09 55.9 255.1 55.57 255.11 55.24 255.11 54.91 255.12 54.58 255.13 54.25 255.13 53.92 255.14 53.59 255.15 53.26 255.16 52.93 255.19 52.6 255.21 52.27 255.24 51.94 255.27 51.61 255.3 51.28 255.33 50.95 255.35 50.62 255.38 50.29 256.41 49.96 255.44 49.63 255.47 49.3 255.49 48.97 255.52 48.64 255.55 48.31 255.58 47.98 255.6 47.65 255.63 47.32 255.66 46.99 255.69 46.66 255.72 46.33 255.74 46 255.77 45.67 255.8 45.34 255.83 45.01 255.87 44.68 255.97 44.35 256.08 44.02 256.19 43.69 256.3 43.36 256.41 43.03 256.52 42.7 256.63 42.37 256.74 42.04 256.84 41.71 256.95 41.38 257.06 41.05 257.17 40.72 257.28 40.39 257.39 40.06 257.5 39.73 257.61 39.4 257.71 39.07 258.82 38.74 257.93 38.41 258.04 38.08 258.15 37.75 258.34 37.42 258.55 37.09 258.75 36.76 258.95 36.43 259.16 36.1 259.36 35.77 259.56 35.44 259.77 35.11 259.97 34.78 260.17 34.45 260.38 34.12 260.58 33.79 260.78 33.46 260.99 33.13 261.19 32.8 261.39 32.47 261.6 32.14 261.88 31.81 262.2 31.48 262.52 31.15 262.85 30.82 263.17 30.49 263.49 30.16 264.82 29.83 265.14 29.5 264.47 29.17 264.79 28.84 265.11 28.51 265.44 28.18 265.76 27.85 266.09 27.52 266.47 27.19 266.95 26.86 267.43 26.53 267.91 26.2 268.39 25.87 268.87 25.54 269.35 25.21 269.83 24.88 270.31 24.55 271.79 24.22 271.27 23.89 271.75 23.56 272.36 23.23 273.31 22.9 274.26 22.57 275.21 22.24 276.16 21.91 277.12 21.58 278.07 21.25 279.02 20.92 279.97 20.59 281.92 20.26 282.28 19.93 283.93 19.6 285.58 19.27 288.24 18.94 288.9 18.61 290.49 18.28 292.02 17.95 293.54 17.62 295.06 17.29 296.59 16.96 298.11 16.63 299.63 16.3 302.15 15.97 302.68 15.64 304.19 15.31 306.67 14.98 307.15 14.65 308.64 14.32 310.12 13.99 311.61 13.66 313.09 13.33 314.58 13 316.06Z" fill="#08f808"/>
<rect x="5" y="193" width="8" height="1.5" fill="#b0ac00"/>
<rect x="4.5" y="333" width="8.5" height="2" fill="#08f808"/>
<text x="3.6" y="191" font-family="Liberation Sans" font-size="7" fill="#8e8c70" stroke="#8e8c70" stroke-width="0.3">C1</text>
<text x="3.4" y="330.6" font-family="Liberation Sans" font-size="7" fill="#30c030" stroke="#30c030" stroke-width="0.12">C4</text>
<path d="M593.3 150.5L599 147.5V153.5Z" fill="#b0ac00"/>
<path d="M128.5 380L131.3 385.5H125.7Z" fill="#b0ac00"/>
</svg>
<div class="wmbg"></div><div class="wm">newmaker.com</div>

<div class="box" style="left:3px;width:73px;background:#c496cc;border-top-color:#4a3a70">
 <div class="hd" style="background:#aca400;border-top-color:#b8b8a8"><span class="l">C1</span>
  <div class="bdg" style="left:31px;width:16px">BwL</div>
  <div class="bdg" style="left:48px;width:23px">DCIM</div></div>
 <div class="bd" style="font-size:8.25px"><div class="r" style="top:2px">5.00 V/div</div><div class="r" style="top:12px">100 mV offset</div></div>
</div>

<div class="box" style="left:78px;width:73px;background:#7462a8">
 <div class="hd" style="background:#0cf40c;border-top-color:#0cf40c"><span class="l" style="color:#0a8a0a;-webkit-text-stroke:0">C4</span>
  <div class="bdg" style="left:40px;width:16px">BwL</div>
  <div class="bdg" style="left:57px;width:14px">DC</div></div>
 <div class="bd" style="font-size:8.2px"><div class="r" style="top:2px;right:1.3px">500 mA/div</div><div class="r" style="top:12px;right:1.3px">-1.510 A ofst</div></div>
</div>

<div class="box" style="left:438px;width:83px;background:#7462a8">
 <div class="hd" style="background:#d0d0d0;border-top-color:#8a7aa2"><span class="l">Timebase</span><span class="l" style="left:auto;right:1px">-3.00 ms</span></div>
 <div class="bd"><div class="r" style="top:2px">1.00 ms/div</div><div class="lft" style="top:12px">2.00 MS</div><div class="r" style="top:12px">200 MS/s</div></div>
</div>

<div class="box" style="left:524px;width:72px;background:#7462a8">
 <div class="hd" style="background:#d0d0d0;border-top-color:#8a7aa2"><span class="l">Trigger</span>
  <div class="bdg" style="left:45px;width:11px">C1</div>
  <div class="bdg" style="left:57px;width:13px">DC</div></div>
 <div class="bd"><div class="lft" style="top:2px">Stop</div><div class="r" style="top:2px">4.75 V</div><div class="lft" style="top:12px">Edge</div><div class="r" style="top:12px">Positive</div></div>
</div>

<div id="logo">LeCroy</div><div id="logobar"></div>
<div id="date">12/6/2006 3:47:29 AM</div>
</body></html>
